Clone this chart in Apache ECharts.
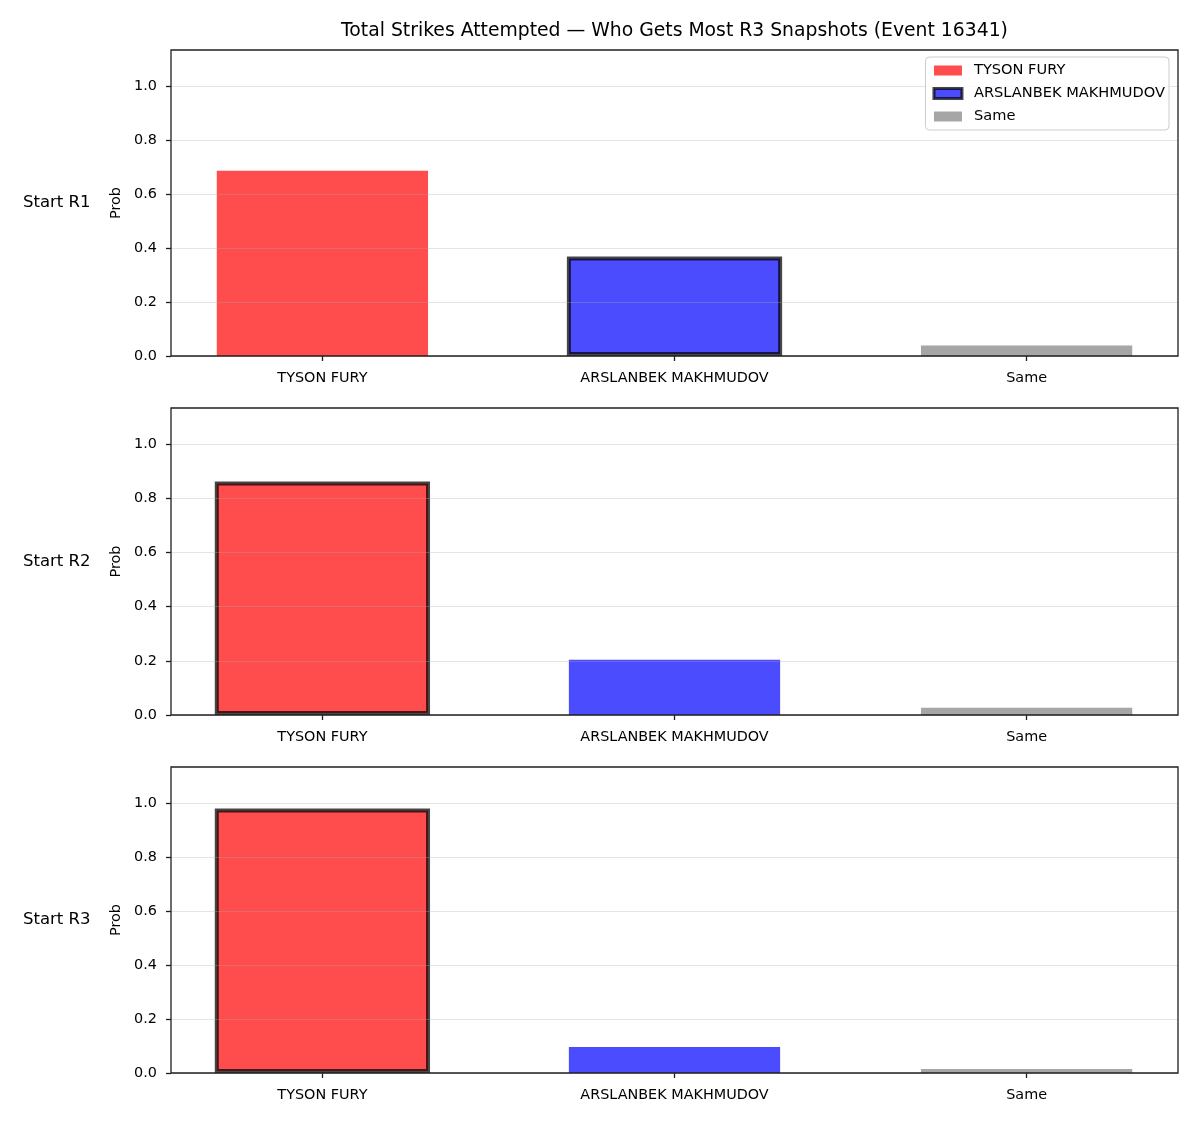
<!DOCTYPE html>
<html>
<head>
<meta charset="utf-8">
<script src="https://cdn.jsdelivr.net/npm/echarts@6/dist/echarts.min.js"></script>
<style>html,body{margin:0;padding:0;background:#fff}#c{width:1200px;height:1125px}</style>
</head>
<body>
<div id="c"></div>
<script>
const categories = ['TYSON FURY', 'ARSLANBEK MAKHMUDOV', 'Same'];
const rowLabels = ['Start R1', 'Start R2', 'Start R3'];
const valuesR1 = [0.686, 0.368, 0.039];
const valuesR2 = [0.862, 0.204, 0.027];
const valuesR3 = [0.979, 0.096, 0.015];
const highlightIndex = [1, 0, 0];
const yTicks = [0, 0.2, 0.4, 0.6, 0.8, 1.0];
const xTicks = [0, 1, 2];
const titleText = 'Total Strikes Attempted \u2014 Who Gets Most R3 Snapshots (Event 16341)';

const panels = [valuesR1, valuesR2, valuesR3];
const FONT = 'DejaVu Sans';
const colors = ['rgba(255,0,0,0.7)', 'rgba(0,0,255,0.7)', 'rgba(128,128,128,0.7)'];
const edge = 'rgba(0,0,0,0.72)';
const edgeW = 4;
const gridLeft = 171, gridRight = 22;
const gridTops = [50, 408, 767];
const gridH = [306, 307, 306];
const xMin = -0.43, xMax = 2.43, yMax = 1.133;
const gridW = 1200 - gridLeft - gridRight;
const barW = 0.6 * gridW / (xMax - xMin);

const chart = echarts.init(document.getElementById('c'), null, {renderer: 'canvas'});

const grids = [], xAxes = [], yAxes = [], series = [], graphics = [];
panels.forEach((vals, p) => {
  grids.push({left: gridLeft, right: gridRight, top: gridTops[p], height: gridH[p],
    show: true, borderColor: '#1f1f1f', borderWidth: 1.3, backgroundColor: 'transparent', z: 4});
  xAxes.push({type: 'value', gridIndex: p, min: xMin, max: xMax,
    axisLine: {show: false, onZero: false},
    axisTick: {show: true, customValues: xTicks, length: 5, lineStyle: {color: '#1f1f1f', width: 1.3}},
    axisLabel: {show: true, customValues: xTicks, margin: 15, color: '#000',
      fontFamily: FONT, fontSize: 14.4, formatter: v => categories[Math.round(v)]},
    splitLine: {show: false}});
  yAxes.push({type: 'value', gridIndex: p, min: 0, max: yMax, z: 3,
    name: 'Prob', nameLocation: 'middle', nameGap: 47,
    nameTextStyle: {fontFamily: FONT, fontSize: 14.4, color: '#000'},
    axisLine: {show: false, onZero: false},
    axisTick: {show: true, customValues: yTicks, length: 5, lineStyle: {color: '#1f1f1f', width: 1.3}},
    axisLabel: {show: true, customValues: yTicks, margin: 14, color: '#000',
      fontFamily: FONT, fontSize: 14.4, formatter: v => v.toFixed(1)},
    splitLine: {show: true, customValues: yTicks, lineStyle: {color: 'rgba(170,170,170,0.32)', width: 1}}});
  categories.forEach((cat, c) => {
    const hl = highlightIndex[p] === c;
    series.push({
      name: cat, type: 'bar', xAxisIndex: hl ? 3 + p : p, yAxisIndex: p,
      barWidth: hl ? barW + edgeW : barW, barGap: '-100%',
      itemStyle: {color: colors[c], borderColor: hl ? edge : 'transparent', borderWidth: hl ? edgeW : 0},
      emphasis: {disabled: true},
      data: [[c, vals[c]]]
    });
  });
  graphics.push({type: 'text', x: 23, y: gridTops[p] + gridH[p] / 2,
    style: {text: rowLabels[p], fontFamily: FONT, fontSize: 16.5, fill: '#000',
      textAlign: 'left', textVerticalAlign: 'middle'}});
});
// hidden twin x axes for the highlighted bars so their width does not shift the others
panels.forEach((vals, p) => {
  xAxes.push({type: 'value', gridIndex: p, min: xMin, max: xMax, show: false,
    axisLine: {onZero: false}, splitLine: {show: false}});
});
graphics.push({type: 'text', x: gridLeft + gridW / 2, y: 31,
  style: {text: titleText, fontFamily: FONT, fontSize: 18.8, fill: '#000',
    textAlign: 'center', textVerticalAlign: 'middle'}});

chart.setOption({
  animation: false,
  backgroundColor: '#fff',
  grid: grids, xAxis: xAxes, yAxis: yAxes, series: series,
  graphic: graphics,
  legend: {
    orient: 'vertical', right: 31, top: 57,
    backgroundColor: 'rgba(255,255,255,0.8)', borderColor: '#cccccc', borderWidth: 1, borderRadius: 4,
    padding: [6, 4, 6, 7], itemWidth: 28, itemHeight: 10, itemGap: 8, icon: 'rect',
    selectedMode: false,
    textStyle: {fontFamily: FONT, fontSize: 14.6, color: '#000', lineHeight: 14, padding: [0, 0, 0, 7]},
    data: [
      {name: categories[0], itemStyle: {color: colors[0], borderWidth: 0}},
      {name: categories[1], itemStyle: {color: colors[1], borderColor: edge, borderWidth: 3}},
      {name: categories[2], itemStyle: {color: colors[2], borderWidth: 0}}
    ]
  }
});
</script>
</body>
</html>
